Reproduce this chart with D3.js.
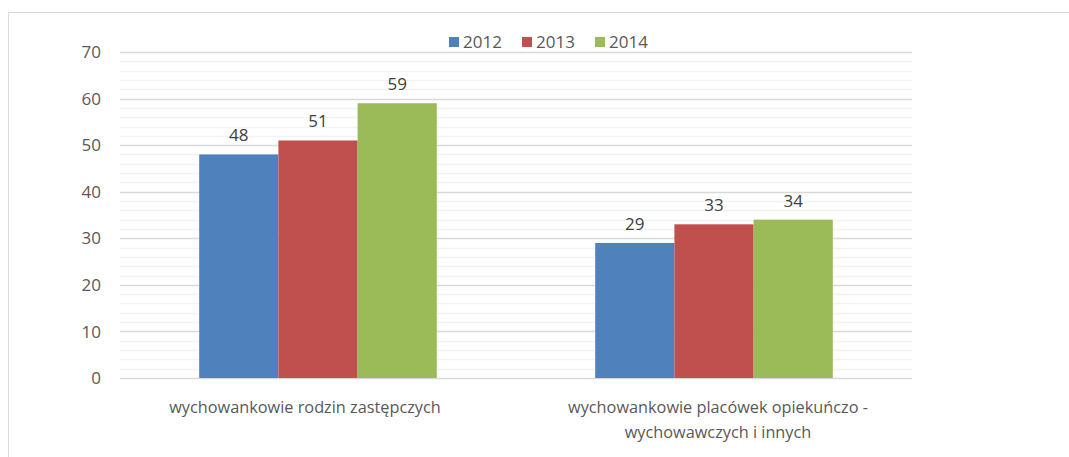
<!DOCTYPE html>
<html>
<head>
<meta charset="utf-8">
<script src="https://cdn.jsdelivr.net/npm/d3@7"></script>
<style>
  body { margin: 0; background: #fff; }
  svg { font-family: "Open Sans", sans-serif; }
</style>
</head>
<body>
<div id="chart"></div>
<script>
const categories = [
  ["wychowankowie rodzin zastępczych"],
  ["wychowankowie placówek opiekuńczo -", "wychowawczych i innych"]
];
const years = ["2012", "2013", "2014"];
const values2012 = [48, 29];
const values2013 = [51, 33];
const values2014 = [59, 34];
const yTicks = [0, 10, 20, 30, 40, 50, 60, 70];
const colors = ["#4f81bd", "#c0504d", "#9bbb59"];

const series = [values2012, values2013, values2014];

const width = 1069, height = 457;
const plot = { left: 120, right: 912, top: 52, bottom: 378 };

const svg = d3.select("#chart").append("svg")
  .attr("width", width)
  .attr("height", height);

// frame
svg.append("rect")
  .attr("x", 8.5).attr("y", 12.5)
  .attr("width", 1100).attr("height", 500)
  .attr("fill", "none").attr("stroke", "#d9d9d9");

const y = d3.scaleLinear().domain([0, 70]).range([plot.bottom, plot.top]);
const x0 = d3.scaleBand().domain(d3.range(categories.length))
  .range([plot.left, plot.right]).paddingInner(0.4).paddingOuter(0.2);
const x1 = d3.scaleBand().domain(d3.range(years.length)).range([0, x0.bandwidth()]);

// minor grid
svg.append("g").selectAll("line")
  .data(d3.range(0, 71, 2).filter(v => v % 10 !== 0))
  .join("line")
  .attr("x1", plot.left).attr("x2", plot.right)
  .attr("y1", d => Math.round(y(d)) + 0.5).attr("y2", d => Math.round(y(d)) + 0.5)
  .attr("stroke", "#f2f2f2").attr("stroke-width", 1.5);

// major grid
svg.append("g").selectAll("line")
  .data(yTicks)
  .join("line")
  .attr("x1", plot.left).attr("x2", plot.right)
  .attr("y1", d => Math.round(y(d)) + 0.5).attr("y2", d => Math.round(y(d)) + 0.5)
  .attr("stroke", "#d9d9d9").attr("stroke-width", 1.5);

// y labels
svg.append("g").selectAll("text")
  .data(yTicks)
  .join("text")
  .attr("x", 101).attr("y", d => y(d))
  .attr("dy", "0.36em")
  .attr("text-anchor", "end")
  .attr("font-size", 17).attr("fill", "#595959")
  .text(d => d);

// bars
const groups = svg.append("g").selectAll("g")
  .data(categories.map((c, i) => i))
  .join("g")
  .attr("transform", i => `translate(${x0(i)},0)`);

groups.selectAll("rect")
  .data(i => series.map((s, k) => ({ k, v: s[i] })))
  .join("rect")
  .attr("x", d => x1(d.k)).attr("width", x1.bandwidth())
  .attr("y", d => y(d.v)).attr("height", d => y(0) - y(d.v))
  .attr("fill", d => colors[d.k]);

groups.selectAll("text")
  .data(i => series.map((s, k) => ({ k, v: s[i] })))
  .join("text")
  .attr("x", d => x1(d.k) + x1.bandwidth() / 2)
  .attr("y", d => y(d.v) - 13)
  .attr("text-anchor", "middle")
  .attr("font-size", 17).attr("fill", "#404040")
  .text(d => d.v);

// category labels (first one sits a little left of its band in the original)
const labelShift = [-13, 4];
svg.append("g").selectAll("text")
  .data(categories.map((c, i) => i))
  .join("text")
  .attr("x", i => x0(i) + x0.bandwidth() / 2 + labelShift[i])
  .attr("y", 413)
  .attr("text-anchor", "middle")
  .attr("font-size", 16.3).attr("fill", "#595959")
  .selectAll("tspan")
  .data(i => categories[i])
  .join("tspan")
  .attr("x", function () { return d3.select(this.parentNode).attr("x"); })
  .attr("dy", (d, j) => j === 0 ? 0 : 25)
  .text(d => d);

// legend
const legend = svg.append("g").selectAll("g")
  .data(years)
  .join("g")
  .attr("transform", (d, i) => `translate(${449 + i * 73},37)`);
legend.append("rect")
  .attr("width", 10).attr("height", 10)
  .attr("fill", (d, i) => colors[i]);
legend.append("text")
  .attr("x", 14).attr("y", 5).attr("dy", "0.36em")
  .attr("font-size", 17).attr("fill", "#595959")
  .text(d => d);
</script>
</body>
</html>
